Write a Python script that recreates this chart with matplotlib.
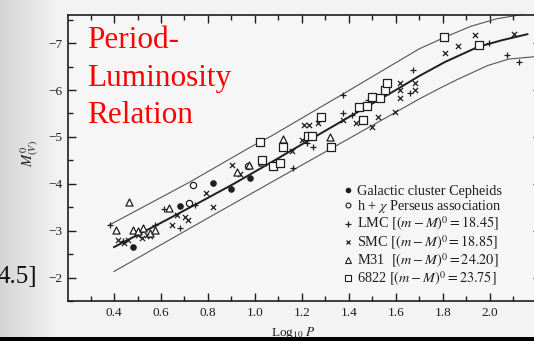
import numpy as np
import matplotlib
matplotlib.use("Agg")
import matplotlib.pyplot as plt
from matplotlib.lines import Line2D
from matplotlib.patches import Rectangle

plt.rcParams['font.family'] = ['Liberation Serif', 'DejaVu Serif']
plt.rcParams['mathtext.fontset'] = 'stix'

# ridge line and the two envelope lines
central_x = [0.40, 0.62, 0.77, 0.91, 1.07, 1.22, 1.42, 1.60, 1.70, 1.81, 1.95, 2.05, 2.16]
central_M = [-2.65, -3.22, -3.62, -4.00, -4.46, -4.90, -5.48, -6.00, -6.30, -6.60, -6.92, -7.06, -7.19]
upper_x = [0.38, 0.72, 0.98, 1.07, 1.38, 1.70, 1.78, 1.81, 1.92, 2.03, 2.15]
upper_M = [-3.12, -4.03, -4.78, -5.02, -5.93, -6.88, -7.06, -7.13, -7.36, -7.52, -7.62]
lower_x = [0.40, 0.80, 1.20, 1.59, 1.70, 1.78, 1.86, 1.99, 2.08, 2.19]
lower_M = [-2.13, -3.27, -4.40, -5.50, -5.81, -6.02, -6.22, -6.52, -6.66, -6.71]

# Galactic cluster Cepheids
gal_x = [0.48, 0.68, 0.82, 0.90, 0.98]
gal_M = [-2.65, -3.53, -4.01, -3.89, -4.12]
# h + chi Persei
per_x = [0.72, 0.735, 0.97]
per_M = [-3.59, -3.98, -4.37]
# LMC
lmc_x = [0.383, 0.44, 0.575, 0.613, 0.681, 0.745, 1.164, 1.22, 1.249, 1.377, 1.377,
         1.413, 1.483, 1.661, 1.675, 1.995, 2.073, 2.123]
lmc_M = [-3.13, -2.77, -3.13, -3.46, -3.06, -3.55, -4.33, -4.87, -4.79, -5.50, -5.89,
         -5.47, -5.79, -5.93, -6.43, -7.01, -6.74, -6.60]
# SMC
smc_x = [0.418, 0.444, 0.461, 0.504, 0.518, 0.539, 0.553, 0.646, 0.667, 0.702, 0.717,
         0.792, 0.82, 0.901, 0.935, 1.157, 1.20, 1.21, 1.232, 1.27, 1.377, 1.431, 1.498,
         1.522, 1.597, 1.619, 1.619, 1.619, 1.683, 1.683, 1.81, 1.863, 1.938, 2.101]
smc_M = [-2.81, -2.74, -2.81, -2.91, -2.84, -2.91, -2.88, -3.13, -3.34, -3.30, -3.23,
         -3.80, -3.50, -4.40, -4.20, -4.69, -4.94, -5.26, -5.26, -5.29, -5.36, -5.29, -5.22,
         -5.43, -5.54, -6.14, -6.01, -5.84, -6.14, -6.00, -6.78, -6.94, -7.17, -7.19]
# M31
m31_x = [0.409, 0.465, 0.482, 0.504, 0.525, 0.553, 0.575, 0.636, 0.923, 0.975, 1.029, 1.121, 1.32]
m31_M = [-3.02, -3.61, -3.02, -3.00, -3.06, -2.95, -3.02, -3.48, -4.26, -4.40, -4.47, -4.95, -4.99]
# NGC 6822
n6822_x = [1.022, 1.029, 1.079, 1.107, 1.121, 1.228, 1.242, 1.28, 1.325, 1.441, 1.462,
           1.477, 1.498, 1.533, 1.555, 1.562, 1.806, 1.952]
n6822_M = [-4.90, -4.51, -4.37, -4.44, -4.79, -5.01, -5.01, -5.42, -4.78, -5.64, -5.35,
           -5.66, -5.86, -5.82, -6.00, -6.14, -7.13, -6.96]

legend_labels = ['Galactic cluster Cepheids',
                 r'h + $\chi$ Perseus association',
                 r'LMC $[(m-M)^0 = 18.45]$',
                 r'SMC $[(m-M)^0 = 18.85]$',
                 r'M31  $[(m-M)^0 = 24.20]$',
                 r'6822 $[(m-M)^0 = 23.75]$']
title_lines = ['Period-', 'Luminosity', 'Relation']

W, H = 534, 341
ink = '#1e1e1e'

fig = plt.figure(figsize=(W / 100, H / 100), dpi=100)
fig.patch.set_facecolor('#ededed')

# scan shading, darker at the left edge
bg = fig.add_axes([0, 0, 1, 1], zorder=-5)
grad = np.concatenate([np.linspace(0.83, 0.95, 60), np.full(474, 0.955)])
bg.imshow(grad[None, :], cmap='gray', vmin=0, vmax=1, aspect='auto', extent=(0, 1, 0, 1))
bg.set_axis_off()

ax = fig.add_axes([68 / W, 40 / H, (541 - 68) / W, (301 - 15) / H])
ax.set_facecolor('#f7f7f7')
ax.patch.set_alpha(0.85)

ax.plot(upper_x, upper_M, color='#555555', lw=0.8)
ax.plot(lower_x, lower_M, color='#555555', lw=0.8)
ax.plot(central_x, central_M, color=ink, lw=1.4)

ax.scatter(gal_x, gal_M, s=14, marker='o', color=ink, zorder=3)
ax.scatter(per_x, per_M, s=20, marker='o', facecolor='white', edgecolor=ink, lw=0.9, zorder=3)
ax.scatter(lmc_x, lmc_M, s=22, marker='+', color=ink, lw=0.9, zorder=3)
ax.scatter(smc_x, smc_M, s=14, marker='x', color=ink, lw=0.9, zorder=3)
ax.scatter(m31_x, m31_M, s=26, marker='^', facecolor='white', edgecolor=ink, lw=0.9, zorder=3)
ax.scatter(n6822_x, n6822_M, s=28, marker='s', facecolor='white', edgecolor=ink, lw=0.9, zorder=3)

ax.set_xlim(0.204, 2.218)
ax.set_ylim(-1.51, -7.60)
ax.set_xticks([0.4, 0.6, 0.8, 1.0, 1.2, 1.4, 1.6, 1.8, 2.0])
ax.set_xticks(np.arange(0.3, 2.21, 0.2), minor=True)
ax.set_yticks([-2, -3, -4, -5, -6, -7])
ax.set_yticks([-1.5, -2.5, -3.5, -4.5, -5.5, -6.5, -7.5], minor=True)
ax.tick_params(which='both', direction='in', top=True, right=True, colors=ink,
               labelsize=9.5, width=1.0)
ax.tick_params(which='major', length=6, pad=4)
ax.tick_params(which='minor', length=3.5)
for sp in ax.spines.values():
    sp.set_color(ink)
    sp.set_linewidth(1.2)

fig.text(293 / W, 1 - 333 / H, r'Log$_{10}$ $P$', ha='center', va='center', fontsize=9.5, color=ink)
fig.text(30 / W, 1 - 153 / H, r'$M^0_{(V)}$', rotation=90, ha='center', va='center',
         fontsize=10.5, color=ink)

handles = [
    Line2D([], [], ls='', marker='o', ms=3, color=ink),
    Line2D([], [], ls='', marker='o', ms=3.5, mfc='white', mec=ink, mew=0.8),
    Line2D([], [], ls='', marker='+', ms=4.5, color=ink, mew=0.9),
    Line2D([], [], ls='', marker='x', ms=3.5, color=ink, mew=0.9),
    Line2D([], [], ls='', marker='^', ms=4, mfc='white', mec=ink, mew=0.8),
    Line2D([], [], ls='', marker='s', ms=4, mfc='white', mec=ink, mew=0.8),
]
leg = ax.legend(handles, legend_labels, loc='upper left',
                bbox_to_anchor=(336 / W, 1 - 178 / H), bbox_transform=fig.transFigure,
                frameon=False, fontsize=10.3, borderpad=0, handlelength=0.7,
                handletextpad=0.3, labelspacing=0.0)
for t in leg.get_texts():
    t.set_color(ink)

for line, yb in zip(title_lines, [48, 86, 123]):
    fig.text(87 / W, 1 - yb / H, line, color='#ff0000', fontsize=22.5, va='baseline', ha='left')

fig.text(-2 / W, 1 - 283 / H, '4.5]', color='#111111', fontsize=18, va='baseline', ha='left')

fig.patches.append(Rectangle((0, 0), 1, 4 / H, transform=fig.transFigure,
                             facecolor='black', edgecolor='none', zorder=10))

fig.savefig('out.png', dpi=100, facecolor=fig.get_facecolor())
